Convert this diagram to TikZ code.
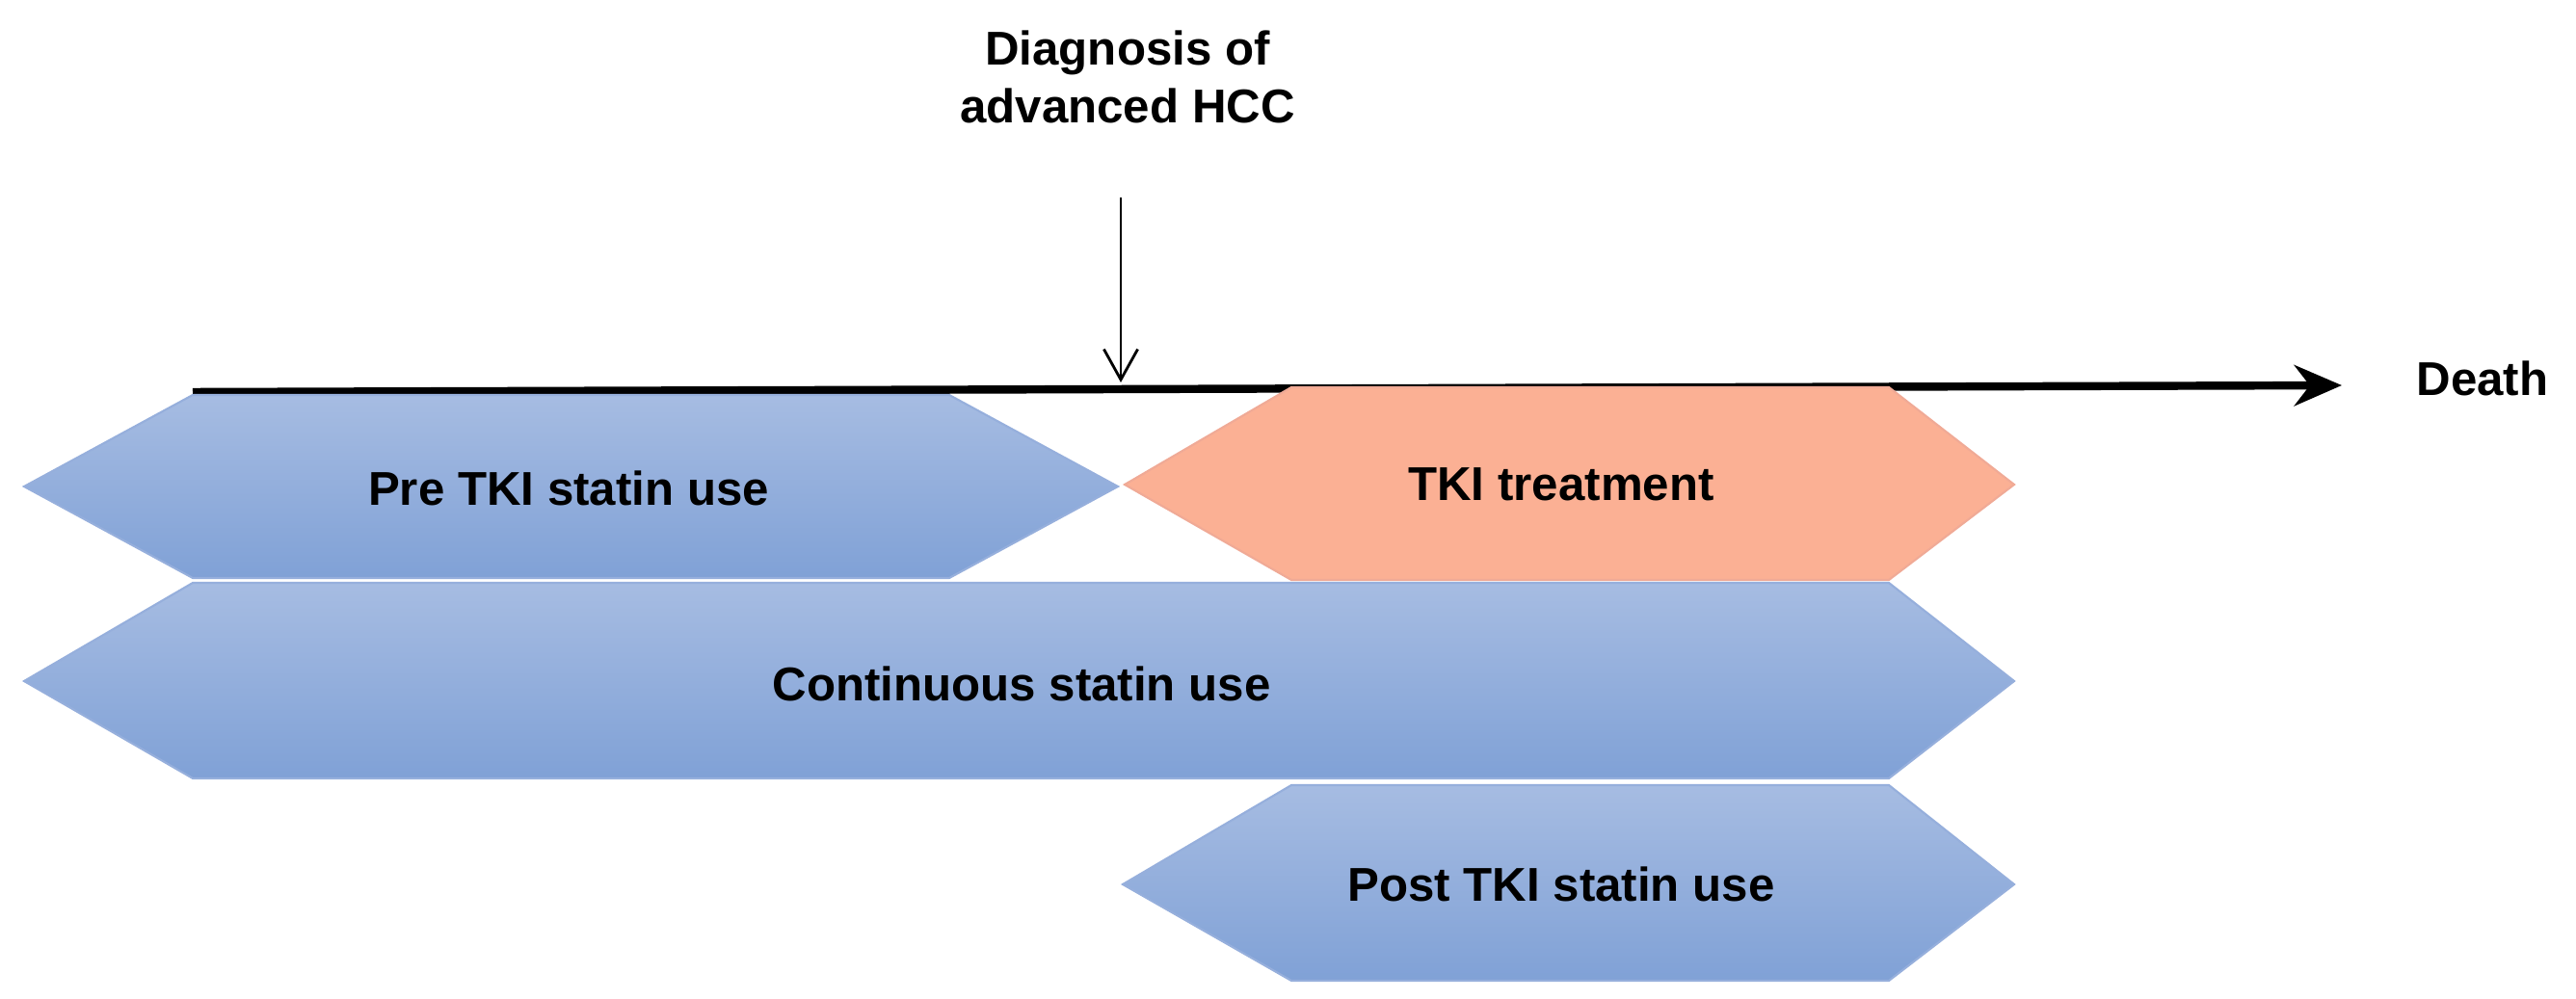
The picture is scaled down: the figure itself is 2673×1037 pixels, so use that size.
\documentclass[tikz,border=0pt]{standalone}
\usepackage{fontspec}
\setmainfont{Liberation Sans}
\usetikzlibrary{arrows.meta}
\definecolor{bluetop}{RGB}{166,188,226}
\definecolor{bluebot}{RGB}{128,161,214}
\definecolor{blueedge}{RGB}{150,175,220}
\definecolor{salmon}{RGB}{251,176,148}
\definecolor{salmonedge}{RGB}{240,170,150}
\tikzset{
  px/.style={x=0.01cm,y=-0.01cm},
  bluehex/.style={top color=bluetop,bottom color=bluebot,draw=blueedge,line width=0.6pt},
  orhex/.style={fill=salmon,draw=salmonedge,line width=0.6pt},
  lbl/.style={font=\fontsize{14}{17}\selectfont\bfseries,align=center,text=black}
}
\begin{document}
\begin{tikzpicture}[px]
\useasboundingbox (0,0) rectangle (2673,1037);
% timeline
\coordinate (tl0) at (200,407);
\coordinate (tl1) at (2430,400);
\draw[line width=2.4pt,-{Stealth[length=14pt,width=12pt]}] (tl0) -- (tl1);
\node[lbl,anchor=west] (death) at (2495,393) {Death};
% diagnosis
\node[lbl] (diag) at (1170,80) {Diagnosis of\\advanced HCC};
\coordinate (d0) at (1163,205);
\coordinate (d1) at (1163,397);
\draw[line width=0.8pt,-{Straight Barb[length=9pt,width=10pt]}] (d0) -- (d1);
% hexagons
\path[bluehex] (25,505) -- (200,410) -- (985,410) -- (1160,505) -- (985,600) -- (200,600) -- cycle;
\node[lbl] (pre) at (590,507) {Pre TKI statin use};
\path[orhex] (1167,503) -- (1340,402) -- (1960,402) -- (2090,503) -- (1960,602) -- (1340,602) -- cycle;
\node[lbl] (tki) at (1620,503) {TKI treatment};
\path[bluehex] (25,707) -- (200,605) -- (1960,605) -- (2090,707) -- (1960,808) -- (200,808) -- cycle;
\node[lbl] (cont) at (1060,710) {Continuous statin use};
\path[bluehex] (1165,918) -- (1340,815) -- (1960,815) -- (2090,918) -- (1960,1018) -- (1340,1018) -- cycle;
\node[lbl] (post) at (1620,918) {Post TKI statin use};
\end{tikzpicture}
\end{document}
